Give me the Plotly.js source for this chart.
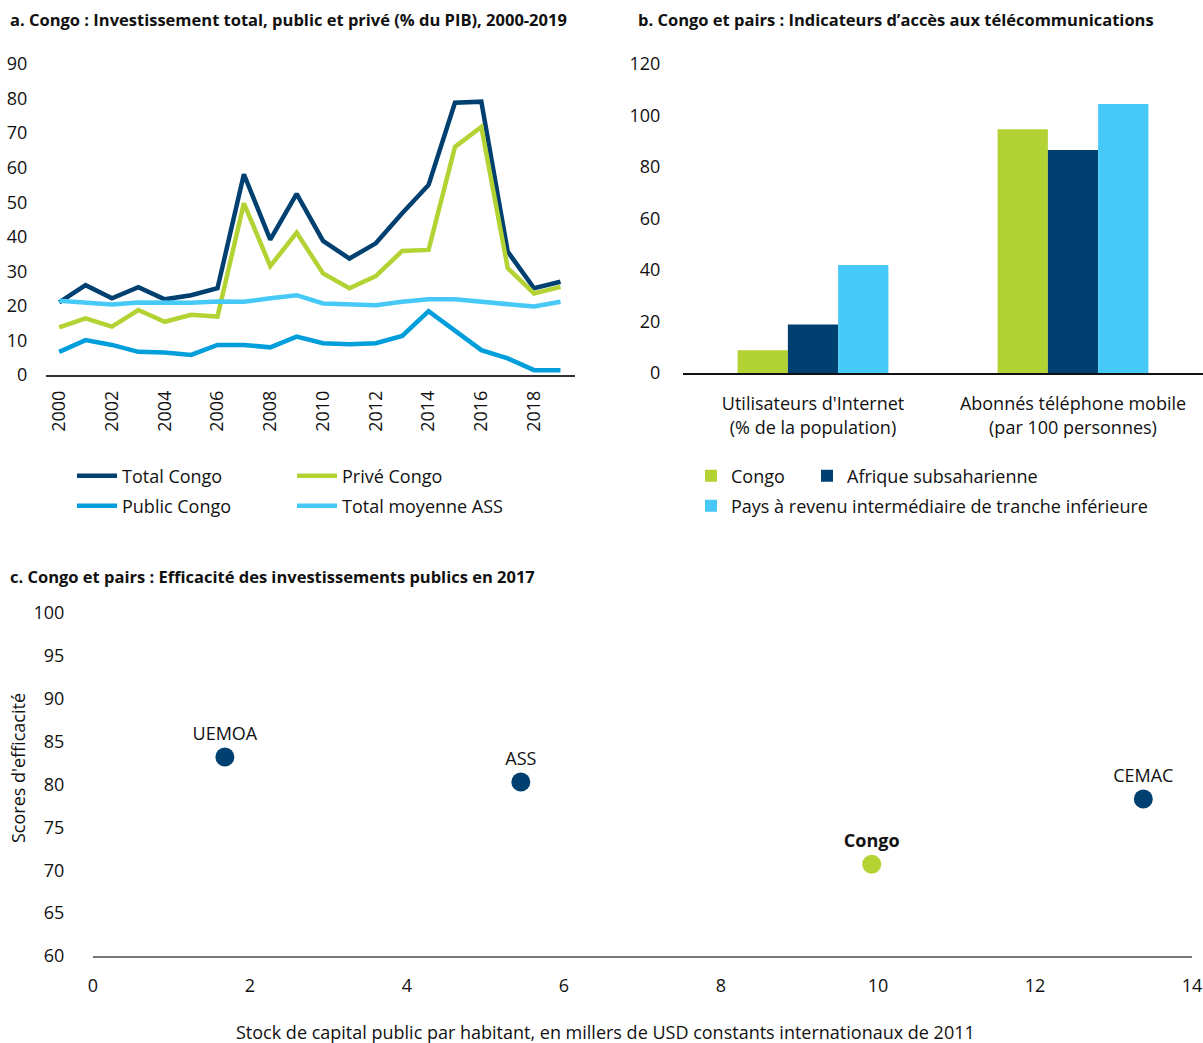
<!DOCTYPE html>
<html>
<head>
<meta charset="utf-8">
<script src="https://cdn.plot.ly/plotly-3.0.1.min.js"></script>
<style>
  body { margin: 0; background: #fff; }
  #chart { width: 1203px; height: 1043px; }
</style>
</head>
<body>
<div id="chart"></div>
<script>
// a. investissement (% du PIB)
const years = [2000, 2001, 2002, 2003, 2004, 2005, 2006, 2007, 2008, 2009,
               2010, 2011, 2012, 2013, 2014, 2015, 2016, 2017, 2018, 2019];
const totalCongo = [21, 26, 22.2, 25.4, 21.9, 23.1, 25.1, 58.1, 39.2, 52.4,
                    38.8, 33.7, 38.1, 46.8, 55, 78.8, 79.1, 35.7, 25.1, 27];
const priveCongo = [13.8, 16.4, 14, 18.8, 15.4, 17.4, 16.9, 49.7, 31.5, 41.2,
                    29.4, 25.1, 28.6, 35.9, 36.2, 66, 71.8, 30.9, 23.6, 25.5];
const publicCongo = [6.7, 10.1, 8.7, 6.7, 6.5, 5.8, 8.7, 8.7, 8, 11.1,
                     9.2, 8.9, 9.2, 11.3, 18.5, 12.7, 7.2, 4.8, 1.4, 1.4];
const totalASS = [21.5, 20.9, 20.4, 21, 20.9, 20.9, 21.3, 21.2, 22.2, 23.1,
                  20.7, 20.4, 20.2, 21.2, 21.9, 21.9, 21.2, 20.4, 19.8, 21.2];

// b. télécommunications
const telecomCats = ["Utilisateurs d'Internet<br>(% de la population)",
                     "Abonnés téléphone mobile<br>(par 100 personnes)"];
const telCongo = [8.8, 94.7];
const telASS = [18.8, 86.6];
const telPRITI = [41.9, 104.5];

// c. efficacité des investissements publics
const peerNames = ['UEMOA', 'ASS', 'CEMAC'];
const peerStock = [1.68, 5.45, 13.38];
const peerScore = [83.2, 80.3, 78.3];
const congoName = ['Congo'];
const congoStock = [9.92];
const congoScore = [70.7];

const NAVY = '#004070', GREEN = '#b3d334', BLUE = '#009fdb', LIGHT = '#46c9f6';
const FONT = '"Open Sans", "Noto Sans", sans-serif';
const W = 1203, H = 1043;
const px = v => v / W;
const py = v => 1 - v / H;

const traces = [
  { x: years, y: totalCongo, name: 'Total Congo', type: 'scatter', mode: 'lines',
    line: { color: NAVY, width: 4.5 }, xaxis: 'x', yaxis: 'y', legend: 'legend' },
  { x: years, y: priveCongo, name: 'Privé Congo', type: 'scatter', mode: 'lines',
    line: { color: GREEN, width: 4.5 }, xaxis: 'x', yaxis: 'y', legend: 'legend' },
  { x: years, y: publicCongo, name: 'Public Congo', type: 'scatter', mode: 'lines',
    line: { color: BLUE, width: 4.5 }, xaxis: 'x', yaxis: 'y', legend: 'legend2' },
  { x: years, y: totalASS, name: 'Total moyenne ASS', type: 'scatter', mode: 'lines',
    line: { color: LIGHT, width: 4.5 }, xaxis: 'x', yaxis: 'y', legend: 'legend2' },

  { x: telecomCats, y: telCongo, name: 'Congo', type: 'bar',
    marker: { color: GREEN }, xaxis: 'x2', yaxis: 'y2', legend: 'legend3' },
  { x: telecomCats, y: telASS, name: 'Afrique subsaharienne', type: 'bar',
    marker: { color: NAVY }, xaxis: 'x2', yaxis: 'y2', legend: 'legend5' },
  { x: telecomCats, y: telPRITI, name: 'Pays à revenu intermédiaire de tranche inférieure', type: 'bar',
    marker: { color: LIGHT }, xaxis: 'x2', yaxis: 'y2', legend: 'legend4' },

  { x: peerStock, y: peerScore, text: peerNames, type: 'scatter', mode: 'markers+text',
    textposition: 'top center', textfont: { size: 18, color: '#111' },
    marker: { color: NAVY, size: 19 }, xaxis: 'x3', yaxis: 'y3', showlegend: false, cliponaxis: false },
  { x: congoStock, y: congoScore, text: congoName.map(s => '<b>' + s + '</b>'), type: 'scatter',
    mode: 'markers+text', textposition: 'top center', textfont: { size: 18, color: '#111' },
    marker: { color: GREEN, size: 19 }, xaxis: 'x3', yaxis: 'y3', showlegend: false, cliponaxis: false }
];

const tickFont = { family: FONT, size: 18, color: '#111' };
const legendBase = { orientation: 'h', font: { family: FONT, size: 18, color: '#111' },
  bgcolor: 'rgba(0,0,0,0)', xanchor: 'left', yanchor: 'middle', itemwidth: 40 };
const textFont = { family: FONT, size: 18, color: '#111' };
const titleFont = { family: FONT, size: 16.5, color: '#111' };

const layout = {
  width: W, height: H,
  margin: { l: 0, r: 0, t: 0, b: 0 },
  paper_bgcolor: '#fff', plot_bgcolor: '#fff',
  font: { family: FONT, color: '#111' },
  bargap: 0.42, bargroupgap: 0,
  xaxis: { domain: [px(46), px(575)], range: [1999.5, 2019.55], dtick: 2, tick0: 2000, anchor: 'y',
    tickangle: -90, showgrid: false, zeroline: false, showline: true, linecolor: '#333', linewidth: 1.5,
    ticks: 'outside', ticklen: 7, tickcolor: 'rgba(0,0,0,0)', tickfont: tickFont },
  yaxis: { domain: [py(375), py(64)], range: [0, 90], dtick: 10, anchor: 'x', showgrid: false, zeroline: false,
    ticks: 'outside', ticklen: 14, tickcolor: 'rgba(0,0,0,0)', tickfont: tickFont },
  xaxis2: { domain: [px(683), px(1203)], range: [-0.5, 1.5], anchor: 'y2', showgrid: false, zeroline: false,
    showline: true, linecolor: '#111', linewidth: 1.5,
    ticks: 'outside', ticklen: 14, tickcolor: 'rgba(0,0,0,0)', tickfont: tickFont },
  yaxis2: { domain: [py(373), py(64)], range: [0, 120], dtick: 20, anchor: 'x2', showgrid: false, zeroline: false,
    ticks: 'outside', ticklen: 18, tickcolor: 'rgba(0,0,0,0)', tickfont: tickFont },
  xaxis3: { domain: [px(93), px(1192)], range: [0, 14], dtick: 2, anchor: 'y3', showgrid: false, zeroline: false,
    showline: true, linecolor: '#777', linewidth: 1.5,
    ticks: 'outside', ticklen: 13, tickcolor: 'rgba(0,0,0,0)', tickfont: tickFont },
  yaxis3: { domain: [py(956), py(613)], range: [60, 100], dtick: 5, anchor: 'x3', showgrid: false, zeroline: false,
    ticks: 'outside', ticklen: 24, tickcolor: 'rgba(0,0,0,0)', tickfont: tickFont },
  legend: Object.assign({}, legendBase, { x: px(72), y: py(476), entrywidth: 165, entrywidthmode: 'pixels' }),
  legend2: Object.assign({}, legendBase, { x: px(72), y: py(506), entrywidth: 165, entrywidthmode: 'pixels' }),
  legend3: Object.assign({}, legendBase, { x: px(691), y: py(476), itemwidth: 30 }),
  legend5: Object.assign({}, legendBase, { x: px(807), y: py(476), itemwidth: 30 }),
  legend4: Object.assign({}, legendBase, { x: px(691), y: py(506), itemwidth: 30 }),
  annotations: [
    { text: '<b>a. Congo : Investissement total, public et privé (% du PIB), 2000-2019</b>',
      x: px(8), y: py(19), xref: 'paper', yref: 'paper', xanchor: 'left', yanchor: 'middle',
      showarrow: false, font: titleFont },
    { text: '<b>b. Congo et pairs : Indicateurs d’accès aux télécommunications</b>',
      x: px(636), y: py(19), xref: 'paper', yref: 'paper', xanchor: 'left', yanchor: 'middle',
      showarrow: false, font: titleFont },
    { text: '<b>c. Congo et pairs : Efficacité des investissements publics en 2017</b>',
      x: px(8), y: py(576), xref: 'paper', yref: 'paper', xanchor: 'left', yanchor: 'middle',
      showarrow: false, font: titleFont },
    { text: 'Stock de capital public par habitant, en millers de USD constants internationaux de 2011',
      x: px(605), y: py(1032), xref: 'paper', yref: 'paper', xanchor: 'center', yanchor: 'middle',
      showarrow: false, font: textFont },
    { text: "Scores d'efficacité", textangle: -90,
      x: px(18), y: py(768), xref: 'paper', yref: 'paper', xanchor: 'center', yanchor: 'middle',
      showarrow: false, font: textFont }
  ]
};

Plotly.newPlot('chart', traces, layout, { staticPlot: true });
</script>
</body>
</html>
